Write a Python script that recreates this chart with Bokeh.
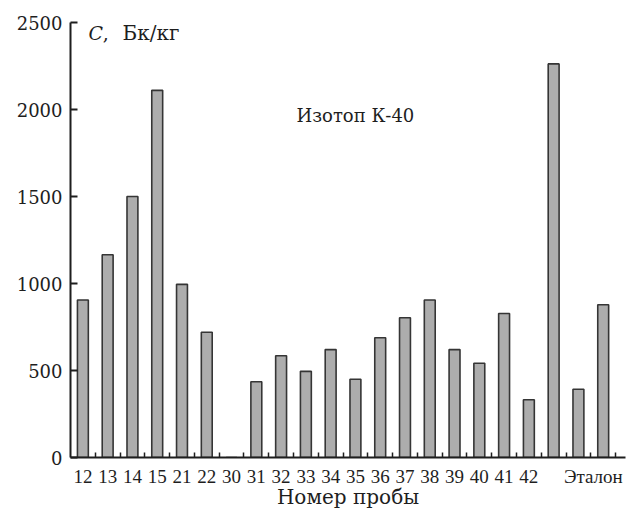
from bokeh.plotting import figure
from bokeh.models import Range1d, FixedTicker, ColumnDataSource, Label, Title
from bokeh.embed import file_html
from bokeh.resources import INLINE

# ---- data ----
samples = ["12", "13", "14", "15", "21", "22", "30", "31", "32", "33", "34",
           "35", "36", "37", "38", "39", "40", "41", "42",
           "Эталон 1", "Эталон 2", "Эталон 3"]
activity = [905, 1165, 1500, 2110, 995, 720, 0, 435, 585, 495, 620,
            450, 688, 803, 905, 620, 542, 828, 332,
            2262, 392, 878]
tick_labels = ["12", "13", "14", "15", "21", "22", "30", "31", "32", "33", "34",
               "35", "36", "37", "38", "39", "40", "41", "42", "Эталон"]
y_ticks = [0, 500, 1000, 1500, 2000, 2500]

n = len(samples)
xpos = [i + 0.5 for i in range(n)]
src = ColumnDataSource(dict(x=xpos, top=activity, name=samples))

SERIF = "DejaVu Serif"
TICKF = "Liberation Serif"
INK = "#1e1e1e"

p = figure(width=627, height=510, output_backend="svg", toolbar_location=None,
           x_range=Range1d(0, n + 0.4), y_range=Range1d(0, 2500),
           min_border_left=70, min_border_right=2, min_border_top=22,
           min_border_bottom=53)
p.outline_line_color = None
p.xgrid.grid_line_color = None
p.ygrid.grid_line_color = None
p.background_fill_color = "white"
p.border_fill_color = "white"

p.vbar(x="x", top="top", bottom=0, width=0.44, source=src,
       fill_color="#adadad", line_color="#353535", line_width=1.6)

# x axis: labels at slot centres, short inner ticks at slot boundaries
label_pos = [i + 0.5 for i in range(len(tick_labels) - 1)] + [21.1]
p.xaxis.ticker = FixedTicker(ticks=label_pos,
                             minor_ticks=[float(k) for k in range(1, n + 1)])
p.xaxis.major_label_overrides = {pos: lab for pos, lab in zip(label_pos, tick_labels)}
p.xaxis.major_tick_line_color = None
p.xaxis.major_tick_in = 0
p.xaxis.major_tick_out = 0
p.xaxis.minor_tick_in = 5
p.xaxis.minor_tick_out = 0
p.xaxis.minor_tick_line_color = INK
p.xaxis.minor_tick_line_width = 1.5
p.xaxis.axis_line_color = INK
p.xaxis.axis_line_width = 2
p.xaxis.major_label_text_font = TICKF
p.xaxis.major_label_text_font_size = "19px"
p.xaxis.major_label_text_color = INK
p.xaxis.major_label_standoff = 8

# y axis
p.yaxis.ticker = FixedTicker(ticks=y_ticks)
p.yaxis.major_tick_in = 7
p.yaxis.major_tick_out = 0
p.yaxis.major_tick_line_width = 2
p.yaxis.major_tick_line_color = INK
p.yaxis.minor_tick_line_color = None
p.yaxis.axis_line_color = INK
p.yaxis.axis_line_width = 2
p.yaxis.major_label_text_font = SERIF
p.yaxis.major_label_text_font_size = "18px"
p.yaxis.major_label_text_color = INK
p.yaxis.major_label_standoff = 8

# x axis title (below the tick labels, slightly left of centre)
p.add_layout(Title(text="Номер пробы", align="center", offset=-16,
                   text_font=SERIF, text_font_size="20px",
                   text_font_style="normal", text_color=INK, standoff=-14), "below")

# annotations
p.add_layout(Label(x=0.73, y=2437, text="C", text_font=SERIF, text_font_style="italic",
                   text_font_size="19px", text_color=INK, text_baseline="middle"))
p.add_layout(Label(x=1.3, y=2437, text=",", text_font=SERIF,
                   text_font_size="19px", text_color=INK, text_baseline="middle"))
p.add_layout(Label(x=2.1, y=2437, text="Бк/кг", text_font=SERIF,
                   text_font_size="20px", text_color=INK, text_baseline="middle"))
p.add_layout(Label(x=11.5, y=1967, text="Изотоп К-40", text_font=SERIF,
                   text_font_size="18px", text_color=INK, text_baseline="middle",
                   text_align="center"))

open("out.html", "w").write(file_html(p, INLINE))
